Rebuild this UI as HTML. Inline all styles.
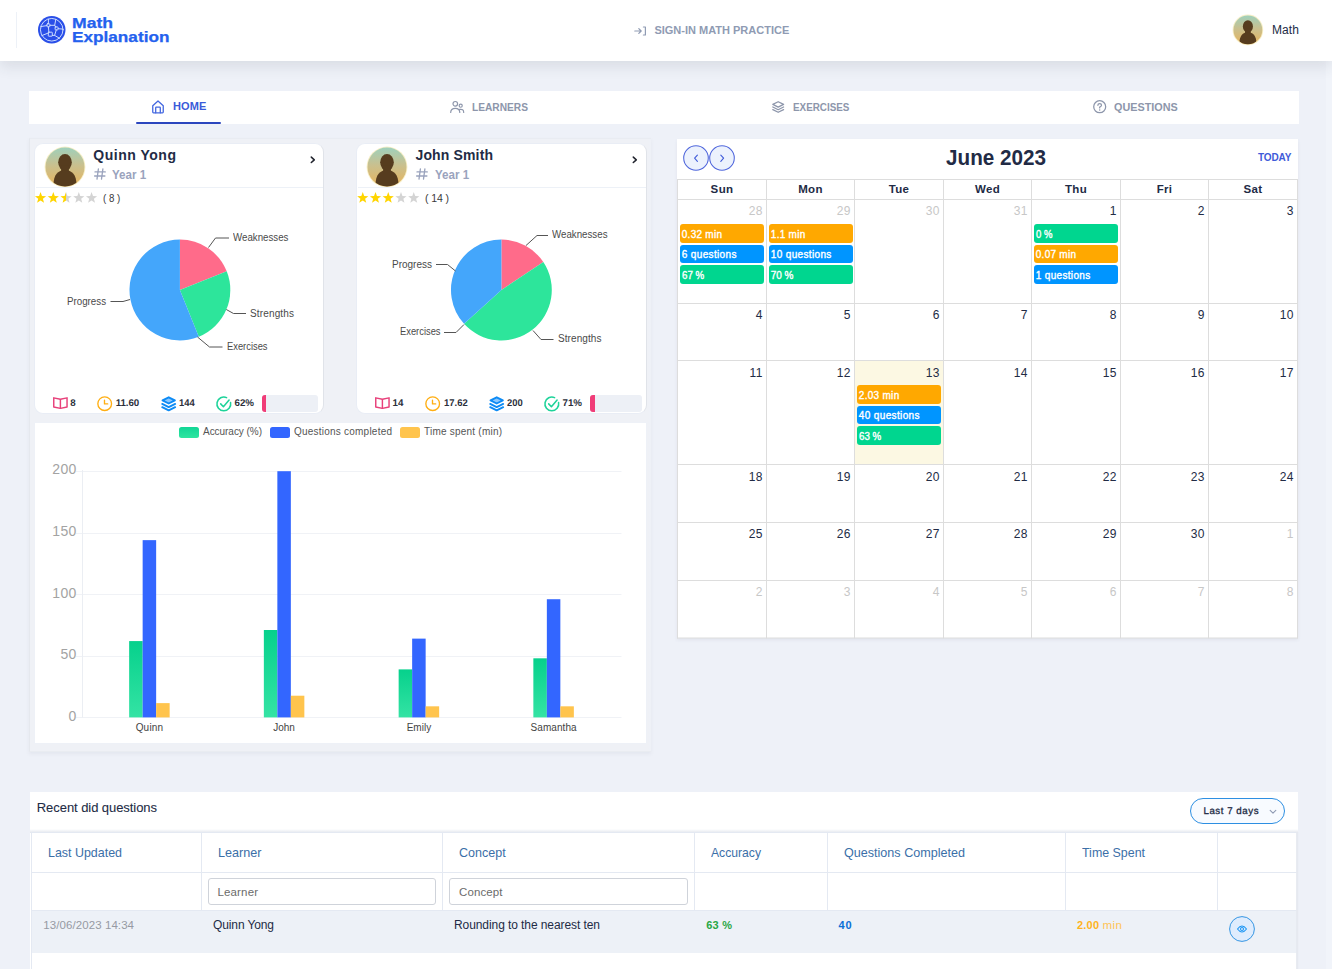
<!DOCTYPE html>
<html><head><meta charset="utf-8"><title>Math Explanation</title>
<style>
html,body{margin:0;padding:0}
body{width:1332px;height:969px;overflow:hidden;position:relative;background:#eef1f8;font-family:"Liberation Sans",sans-serif;}
.t{position:absolute;white-space:pre;line-height:1;}
.b{position:absolute;box-sizing:border-box;}
svg{position:absolute;overflow:visible}
</style></head><body>
<div class="b" id="rightstrip" style="left:1326px;top:0;width:6px;height:969px;background:#f1f4fa;"></div>
<div class="b" style="left:0px;top:0px;width:1332px;height:61px;background:#fff;box-shadow:0 6px 13px 0 rgba(50,54,70,.105);"></div>
<div class="b" style="left:16px;top:12px;width:1px;height:36px;background:#edf1f7;"></div>
<svg style="left:38.1px;top:16.1px" width="27.5" height="27.5" viewBox="0 0 27.5 27.5">
<circle cx="13.75" cy="13.75" r="13.75" fill="#2a4fe8"/>
<g fill="none" stroke="#d3e1ff" stroke-width="0.95" stroke-linecap="round" stroke-linejoin="round">
<circle cx="13.75" cy="13.75" r="11.3"/>
<rect x="8.9" y="7.8" width="3" height="3" rx="0.7"/><rect x="17.1" y="10.9" width="3" height="3" rx="0.7"/><rect x="10.3" y="16.2" width="4" height="4" rx="0.5"/>
<path d="M10.4 3.2V7.8M11.9 9.3H16.7L17.8 3.4M16.7 9.3L17.6 11M20.1 12.7L24.9 13.1M8.9 9.6L2.8 10.6M10.4 10.8L10.9 16.2M10.3 17L3.8 19.6M14.3 19.4H16.6L18.3 13.9M16.6 19.4L21.6 22.3"/>
</g></svg>
<span class="t" style="font-size:14.0px;color:#2461ee;top:16px;font-weight:700;transform:scale(1.2583,1.0000);transform-origin:0 12px;left:72.20px;-webkit-text-stroke:0.25px #2461ee;">Math</span>
<span class="t" style="font-size:14.0px;color:#2461ee;top:30px;font-weight:700;transform:scale(1.2275,1.0000);transform-origin:0 12px;left:72.20px;-webkit-text-stroke:0.25px #2461ee;">Explanation</span>
<svg style="left:633.5px;top:25.5px" width="13" height="10" viewBox="0 0 13 10">
<g fill="none" stroke="#8f9bb3" stroke-width="1.2" stroke-linecap="round" stroke-linejoin="round">
<path d="M0.8 5H7.2M4.8 2.6L7.2 5L4.8 7.4"/><path d="M9.4 1H11.4V9H9.4"/></g></svg>
<span class="t" style="font-size:11.0px;color:#8f9bb3;top:25px;font-weight:700;left:654.40px;">SIGN-IN MATH PRACTICE</span>
<svg style="left:1232.10px;top:14.30px" width="31.80" height="31.80" viewBox="-1.5 -1.5 31.80 31.80">
<defs><linearGradient id="uag" x1="0" y1="0" x2="0" y2="1"><stop offset="0" stop-color="#9fd0bb"/><stop offset="0.45" stop-color="#c9c08f"/><stop offset="1" stop-color="#e8b45c"/></linearGradient>
<clipPath id="uac"><circle cx="14.4" cy="14.4" r="14.4"/></clipPath></defs>
<circle cx="14.4" cy="14.4" r="15.30" fill="#f6e9b4" opacity="0.75"/>
<circle cx="14.4" cy="14.4" r="14.4" fill="url(#uag)"/>
<g clip-path="url(#uac)" fill="#563c1e">
<ellipse cx="14.4" cy="10.94" rx="5.04" ry="6.19"/><rect x="11.52" y="12.96" width="5.76" height="5.76"/>
<path d="M5.90 29.80 C5.47 20.45 8.93 16.99 14.40 16.70 C19.87 16.99 23.33 20.45 22.90 29.80Z"/>
</g></svg>
<span class="t" style="font-size:12.0px;color:#222b45;top:24px;letter-spacing:0.141px;left:1271.90px;">Math</span>
<div class="b" style="left:29px;top:91.25px;width:1270px;height:32.5px;background:#fff;"></div>
<svg style="left:152px;top:100.2px" width="12" height="13.5" viewBox="0 0 12 13.5"><g fill="none" stroke="#4468e0" stroke-width="1.3" stroke-linejoin="round" stroke-linecap="round">
<path d="M0.75 5.7L6 0.9L11.25 5.7V12Q11.25 12.8 10.5 12.8H1.5Q0.75 12.8 0.75 12Z"/><path d="M3.7 12.8V7.7Q3.7 7.1 4.3 7.1H7.7Q8.3 7.1 8.3 7.7V12.8"/></g></svg>
<span class="t" style="font-size:11.0px;color:#3a5bd9;top:101px;font-weight:700;letter-spacing:0.083px;left:173.00px;">HOME</span>
<div class="b" style="left:135.75px;top:121.9px;width:85px;height:2.1px;background:#2b46be;border-radius:1.5px;"></div>
<svg style="left:449.8px;top:101px" width="14.4" height="12" viewBox="0 0 14.4 12"><g fill="none" stroke="#8d96ab" stroke-width="1.2" stroke-linecap="round">
<circle cx="5.3" cy="2.8" r="2.3"/><path d="M0.7 11.5Q0.7 7.4 5.3 7.4Q9.8 7.4 9.8 11.5"/>
<circle cx="10.7" cy="4.7" r="1.55"/><path d="M9.6 8.4Q13.7 7.7 13.7 11.5"/></g></svg>
<span class="t" style="font-size:11.0px;color:#8d96ab;top:102px;font-weight:700;transform:scale(0.9255,1.0000);transform-origin:0 9px;left:471.80px;">LEARNERS</span>
<svg style="left:771.8px;top:101px" width="12.4" height="12" viewBox="0 0 12.4 12"><g fill="none" stroke="#8d96ab" stroke-width="1.25" stroke-linejoin="round" stroke-linecap="round">
<path d="M6.2 0.7L11.6 3.4L6.2 6.1L0.8 3.4Z"/><path d="M0.8 6L6.2 8.7L11.6 6"/><path d="M0.8 8.6L6.2 11.3L11.6 8.6"/></g></svg>
<span class="t" style="font-size:11.0px;color:#8d96ab;top:102px;font-weight:700;transform:scale(0.8957,1.0000);transform-origin:0 9px;left:792.90px;">EXERCISES</span>
<svg style="left:1093.2px;top:100.2px" width="13.4" height="13.4" viewBox="0 0 13.4 13.4"><g fill="none" stroke="#8d96ab" stroke-width="1.25" stroke-linecap="round">
<circle cx="6.7" cy="6.7" r="6"/><path d="M4.9 5.3Q4.9 3.6 6.7 3.6Q8.5 3.6 8.5 5.2Q8.5 6.3 6.7 7.1V7.9"/></g><circle cx="6.7" cy="10" r="0.75" fill="#8d96ab"/></svg>
<span class="t" style="font-size:11.0px;color:#8d96ab;top:102px;font-weight:700;transform:scale(0.9832,1.0000);transform-origin:0 9px;left:1114.30px;">QUESTIONS</span>
<div class="b" style="left:29px;top:137.5px;width:622px;height:614px;background:linear-gradient(90deg,#eff1f6 0,#eff1f6 618px,#eef1f8 622px);border-left:1.5px solid #e5e8ee;border-top:1px solid #e9ecf2;border-bottom:1px solid #e9ecf1;box-shadow:0 2px 3px rgba(200,205,215,.25);"></div>
<div class="b" style="left:34.0px;top:143.2px;width:290.0px;height:271px;background:#fff;border-radius:9px;border:1px solid #e9edf5;border-right-color:#e0e3e9;overflow:hidden;"></div>
<svg style="left:43.50px;top:145.50px" width="42.00" height="42.00" viewBox="-1.5 -1.5 42.00 42.00">
<defs><linearGradient id="qg" x1="0" y1="0" x2="0" y2="1"><stop offset="0" stop-color="#9fd0bb"/><stop offset="0.45" stop-color="#c9c08f"/><stop offset="1" stop-color="#e8b45c"/></linearGradient>
<clipPath id="qc"><circle cx="19.5" cy="19.5" r="19.5"/></clipPath></defs>
<circle cx="19.5" cy="19.5" r="20.40" fill="#f6e9b4" opacity="0.75"/>
<circle cx="19.5" cy="19.5" r="19.5" fill="url(#qg)"/>
<g clip-path="url(#qc)" fill="#563c1e">
<ellipse cx="19.5" cy="14.82" rx="6.82" ry="8.38"/><rect x="15.60" y="17.55" width="7.80" height="7.80"/>
<path d="M7.99 40.00 C7.41 27.69 12.09 23.01 19.50 22.62 C26.91 23.01 31.59 27.69 31.01 40.00Z"/>
</g></svg>
<span class="t" style="font-size:14.0px;color:#222b45;top:148px;font-weight:700;letter-spacing:0.519px;left:93.30px;">Quinn Yong</span>
<svg style="left:94.1px;top:167.6px" width="12" height="12" viewBox="0 0 12 12"><g fill="none" stroke="#9aa3bd" stroke-width="1.3" stroke-linecap="round">
<path d="M4.4 0.9L3 11.1M8.9 0.9L7.5 11.1M1 3.9H11.3M0.6 8H10.9"/></g></svg>
<span class="t" style="font-size:12.0px;color:#9aa3bd;top:169px;font-weight:700;transform:scale(0.9670,1.0000);transform-origin:0 10px;left:112.30px;">Year 1</span>
<svg style="left:310.2px;top:156.4px" width="6" height="8" viewBox="0 0 6 8"><path d="M1.3 1.1L4.3 3.8L1.3 6.5" fill="none" stroke="#22252f" stroke-width="1.55" stroke-linecap="round" stroke-linejoin="round"/></svg>
<div class="b" style="left:35.8px;top:187px;width:287.2px;height:1px;background:#edf1f7;"></div>
<svg style="left:0;top:0" width="1332" height="969"><defs><linearGradient id="qh"><stop offset="0.5" stop-color="#ffd500"/><stop offset="0.5" stop-color="#d4d4d4"/></linearGradient></defs><polygon points="40.55,192.09 42.00,195.97 46.15,196.15 42.90,198.73 44.01,202.73 40.55,200.44 37.09,202.73 38.20,198.73 34.95,196.15 39.10,195.97" fill="#ffd500"/><polygon points="53.30,192.09 54.75,195.97 58.90,196.15 55.65,198.73 56.76,202.73 53.30,200.44 49.84,202.73 50.95,198.73 47.70,196.15 51.85,195.97" fill="#ffd500"/><polygon points="66.05,192.09 67.50,195.97 71.65,196.15 68.40,198.73 69.51,202.73 66.05,200.44 62.59,202.73 63.70,198.73 60.45,196.15 64.60,195.97" fill="url(#qh)"/><polygon points="78.80,192.09 80.25,195.97 84.40,196.15 81.15,198.73 82.26,202.73 78.80,200.44 75.34,202.73 76.45,198.73 73.20,196.15 77.35,195.97" fill="#d4d4d4"/><polygon points="91.55,192.09 93.00,195.97 97.15,196.15 93.90,198.73 95.01,202.73 91.55,200.44 88.09,202.73 89.20,198.73 85.95,196.15 90.10,195.97" fill="#d4d4d4"/></svg>
<span class="t" style="font-size:10.5px;color:#3a3a3a;top:193px;transform:scale(0.9267,1.0000);transform-origin:0 9px;left:102.70px;">( 8 )</span>
<svg style="left:0;top:0" width="1332" height="969"><path d="M179.9 290L179.90 239.60A50.4 50.4 0 0 1 226.73 271.36Z" fill="#ff6b8a"/><path d="M179.9 290L226.73 271.36A50.4 50.4 0 0 1 198.78 336.73Z" fill="#2de59b"/><path d="M179.9 290L198.78 336.73A50.4 50.4 0 1 1 179.90 239.60Z" fill="#44a6fb"/><polyline points="208.5,247.5 215.5,238 229,238" fill="none" stroke="#555" stroke-width="1"/><polyline points="226.3,309.5 233.5,313.5 246,313.5" fill="none" stroke="#555" stroke-width="1"/><polyline points="197.5,337 209.5,347 222.5,347" fill="none" stroke="#555" stroke-width="1"/><polyline points="130,299.5 123,301.5 110.5,301.5" fill="none" stroke="#555" stroke-width="1"/></svg>
<span class="t" style="font-size:10.0px;color:#4a4a4a;top:233px;transform:scale(0.9708,1.0000);transform-origin:0 8px;left:233.30px;">Weaknesses</span>
<span class="t" style="font-size:10.0px;color:#4a4a4a;top:309px;letter-spacing:0.150px;left:250.00px;">Strengths</span>
<span class="t" style="font-size:10.0px;color:#4a4a4a;top:342px;transform:scale(0.9343,1.0000);transform-origin:0 8px;left:227.00px;">Exercises</span>
<span class="t" style="font-size:10.0px;color:#4a4a4a;top:297px;transform:scale(0.9746,1.0000);transform-origin:0 8px;left:67.00px;">Progress</span>
<svg style="left:53.2px;top:396.9px" width="14.8" height="12.2" viewBox="0 0 14.8 12.2"><g fill="none" stroke="#e8407a" stroke-width="1.45" stroke-linejoin="round">
<path d="M0.75 0.85L7.4 2.2L14.05 0.85V10L7.4 11.4L0.75 10Z"/><path d="M7.4 2.2V11.4"/></g></svg>
<span class="t" style="font-size:9.75px;color:#2c303b;top:399px;font-weight:700;left:70.20px;text-rendering:geometricPrecision;">8</span>
<svg style="left:97.0px;top:395.5px" width="15.4" height="15.4" viewBox="0.5 0.5 15.4 15.4"><g fill="none" stroke="#ffae12" stroke-width="1.35" stroke-linecap="round" stroke-linejoin="round">
<circle cx="8.2" cy="8.2" r="6.85"/><path d="M8 4.8V8.4H11.2"/></g></svg>
<span class="t" style="font-size:9.75px;color:#2c303b;top:399px;font-weight:700;letter-spacing:-0.065px;left:115.70px;text-rendering:geometricPrecision;">11.60</span>
<svg style="left:161.3px;top:395.6px" width="15.4" height="15.6" viewBox="0 0 15.4 15.6"><g fill="none" stroke="#0d8bf5" stroke-width="1.85" stroke-linejoin="round" stroke-linecap="round">
<path d="M7.7 1.3L13.9 4.4L7.7 7.5L1.5 4.4Z" fill="#8cc8ff"/><path d="M1.2 7.9L7.7 11.1L14.2 7.9"/><path d="M1.2 11.2L7.7 14.4L14.2 11.2"/></g></svg>
<span class="t" style="font-size:9.75px;color:#2c303b;top:399px;font-weight:700;transform:scale(0.9651,1.0000);transform-origin:0 8px;left:179.30px;text-rendering:geometricPrecision;">144</span>
<svg style="left:216.3px;top:396px" width="15.6" height="15.6" viewBox="0 0 15.6 15.6"><g fill="none" stroke="#1ed39a" stroke-width="1.55" stroke-linecap="round" stroke-linejoin="round">
<path d="M14.6 6.6A6.9 6.9 0 1 1 10.6 1.6"/><path d="M4.7 7.9L7.4 10.7L13.1 4.1"/></g></svg>
<span class="t" style="font-size:9.75px;color:#2c303b;top:399px;font-weight:700;letter-spacing:-0.057px;left:234.60px;text-rendering:geometricPrecision;">62%</span>
<div class="b" style="left:262px;top:395.3px;width:56.30000000000001px;height:16.4px;background:#edf0f6;border-radius:3px;overflow:hidden;"><div style="width:3.6px;height:100%;background:#f03d78"></div></div>
<div class="b" style="left:356.2px;top:143.2px;width:290.7px;height:271px;background:#fff;border-radius:9px;border:1px solid #e9edf5;border-right-color:#e0e3e9;overflow:hidden;"></div>
<svg style="left:365.70px;top:145.50px" width="42.00" height="42.00" viewBox="-1.5 -1.5 42.00 42.00">
<defs><linearGradient id="jg" x1="0" y1="0" x2="0" y2="1"><stop offset="0" stop-color="#9fd0bb"/><stop offset="0.45" stop-color="#c9c08f"/><stop offset="1" stop-color="#e8b45c"/></linearGradient>
<clipPath id="jc"><circle cx="19.5" cy="19.5" r="19.5"/></clipPath></defs>
<circle cx="19.5" cy="19.5" r="20.40" fill="#f6e9b4" opacity="0.75"/>
<circle cx="19.5" cy="19.5" r="19.5" fill="url(#jg)"/>
<g clip-path="url(#jc)" fill="#563c1e">
<ellipse cx="19.5" cy="14.82" rx="6.82" ry="8.38"/><rect x="15.60" y="17.55" width="7.80" height="7.80"/>
<path d="M7.99 40.00 C7.41 27.69 12.09 23.01 19.50 22.62 C26.91 23.01 31.59 27.69 31.01 40.00Z"/>
</g></svg>
<span class="t" style="font-size:14.0px;color:#222b45;top:148px;font-weight:700;letter-spacing:0.142px;left:415.50px;">John Smith</span>
<svg style="left:416.3px;top:167.6px" width="12" height="12" viewBox="0 0 12 12"><g fill="none" stroke="#9aa3bd" stroke-width="1.3" stroke-linecap="round">
<path d="M4.4 0.9L3 11.1M8.9 0.9L7.5 11.1M1 3.9H11.3M0.6 8H10.9"/></g></svg>
<span class="t" style="font-size:12.0px;color:#9aa3bd;top:169px;font-weight:700;transform:scale(0.9670,1.0000);transform-origin:0 10px;left:434.50px;">Year 1</span>
<svg style="left:632.4px;top:156.4px" width="6" height="8" viewBox="0 0 6 8"><path d="M1.3 1.1L4.3 3.8L1.3 6.5" fill="none" stroke="#22252f" stroke-width="1.55" stroke-linecap="round" stroke-linejoin="round"/></svg>
<div class="b" style="left:358px;top:187px;width:287.9px;height:1px;background:#edf1f7;"></div>
<svg style="left:0;top:0" width="1332" height="969"><defs><linearGradient id="jh"><stop offset="0.5" stop-color="#ffd500"/><stop offset="0.5" stop-color="#d4d4d4"/></linearGradient></defs><polygon points="362.75,192.09 364.20,195.97 368.35,196.15 365.10,198.73 366.21,202.73 362.75,200.44 359.29,202.73 360.40,198.73 357.15,196.15 361.30,195.97" fill="#ffd500"/><polygon points="375.50,192.09 376.95,195.97 381.10,196.15 377.85,198.73 378.96,202.73 375.50,200.44 372.04,202.73 373.15,198.73 369.90,196.15 374.05,195.97" fill="#ffd500"/><polygon points="388.25,192.09 389.70,195.97 393.85,196.15 390.60,198.73 391.71,202.73 388.25,200.44 384.79,202.73 385.90,198.73 382.65,196.15 386.80,195.97" fill="#ffd500"/><polygon points="401.00,192.09 402.45,195.97 406.60,196.15 403.35,198.73 404.46,202.73 401.00,200.44 397.54,202.73 398.65,198.73 395.40,196.15 399.55,195.97" fill="#d4d4d4"/><polygon points="413.75,192.09 415.20,195.97 419.35,196.15 416.10,198.73 417.21,202.73 413.75,200.44 410.29,202.73 411.40,198.73 408.15,196.15 412.30,195.97" fill="#d4d4d4"/></svg>
<span class="t" style="font-size:10.5px;color:#3a3a3a;top:193px;letter-spacing:-0.082px;left:424.90px;">( 14 )</span>
<svg style="left:0;top:0" width="1332" height="969"><path d="M501.4 290L501.40 239.60A50.4 50.4 0 0 1 543.33 262.04Z" fill="#ff6b8a"/><path d="M501.4 290L543.33 262.04A50.4 50.4 0 0 1 464.06 323.85Z" fill="#2de59b"/><path d="M501.4 290L464.06 323.85A50.4 50.4 0 0 1 501.40 239.60Z" fill="#44a6fb"/><polyline points="526,245.5 537,235.5 548,235.5" fill="none" stroke="#555" stroke-width="1"/><polyline points="533,330.5 541,339.5 553.5,339.5" fill="none" stroke="#555" stroke-width="1"/><polyline points="464,324.5 456,332.5 444,332.5" fill="none" stroke="#555" stroke-width="1"/><polyline points="455.5,271 447.5,264.5 436,264.5" fill="none" stroke="#555" stroke-width="1"/></svg>
<span class="t" style="font-size:10.0px;color:#4a4a4a;top:230px;transform:scale(0.9726,1.0000);transform-origin:0 8px;left:552.00px;">Weaknesses</span>
<span class="t" style="font-size:10.0px;color:#4a4a4a;top:334px;letter-spacing:0.087px;left:558.00px;">Strengths</span>
<span class="t" style="font-size:10.0px;color:#4a4a4a;top:327px;transform:scale(0.9343,1.0000);transform-origin:0 8px;left:399.50px;">Exercises</span>
<span class="t" style="font-size:10.0px;color:#4a4a4a;top:260px;left:392.00px;">Progress</span>
<svg style="left:375.4px;top:396.9px" width="14.8" height="12.2" viewBox="0 0 14.8 12.2"><g fill="none" stroke="#e8407a" stroke-width="1.45" stroke-linejoin="round">
<path d="M0.75 0.85L7.4 2.2L14.05 0.85V10L7.4 11.4L0.75 10Z"/><path d="M7.4 2.2V11.4"/></g></svg>
<span class="t" style="font-size:9.75px;color:#2c303b;top:399px;font-weight:700;letter-spacing:0.155px;left:392.40px;text-rendering:geometricPrecision;">14</span>
<svg style="left:425.0px;top:395.5px" width="15.4" height="15.4" viewBox="0.5 0.5 15.4 15.4"><g fill="none" stroke="#ffae12" stroke-width="1.35" stroke-linecap="round" stroke-linejoin="round">
<circle cx="8.2" cy="8.2" r="6.85"/><path d="M8 4.8V8.4H11.2"/></g></svg>
<span class="t" style="font-size:9.75px;color:#2c303b;top:399px;font-weight:700;transform:scale(0.9713,1.0000);transform-origin:0 8px;left:443.70px;text-rendering:geometricPrecision;">17.62</span>
<svg style="left:489.3px;top:395.6px" width="15.4" height="15.6" viewBox="0 0 15.4 15.6"><g fill="none" stroke="#0d8bf5" stroke-width="1.85" stroke-linejoin="round" stroke-linecap="round">
<path d="M7.7 1.3L13.9 4.4L7.7 7.5L1.5 4.4Z" fill="#8cc8ff"/><path d="M1.2 7.9L7.7 11.1L14.2 7.9"/><path d="M1.2 11.2L7.7 14.4L14.2 11.2"/></g></svg>
<span class="t" style="font-size:9.75px;color:#2c303b;top:399px;font-weight:700;transform:scale(0.9651,1.0000);transform-origin:0 8px;left:507.30px;text-rendering:geometricPrecision;">200</span>
<svg style="left:544.3px;top:396px" width="15.6" height="15.6" viewBox="0 0 15.6 15.6"><g fill="none" stroke="#1ed39a" stroke-width="1.55" stroke-linecap="round" stroke-linejoin="round">
<path d="M14.6 6.6A6.9 6.9 0 1 1 10.6 1.6"/><path d="M4.7 7.9L7.4 10.7L13.1 4.1"/></g></svg>
<span class="t" style="font-size:9.75px;color:#2c303b;top:399px;font-weight:700;letter-spacing:-0.057px;left:562.60px;text-rendering:geometricPrecision;">71%</span>
<div class="b" style="left:590px;top:395.3px;width:52.299999999999955px;height:16.4px;background:#edf0f6;border-radius:3px;overflow:hidden;"><div style="width:5px;height:100%;background:#f03d78"></div></div>
<div class="b" style="left:34px;top:422.1px;width:613.2px;height:322.3px;background:#fff;border:1px solid #eef1f7;"></div>
<div class="b" style="left:179px;top:427px;width:19.6px;height:11px;background:linear-gradient(#12d696,#2ee5a0);border-radius:2.5px;"></div>
<span class="t" style="font-size:10.0px;color:#555;top:427px;letter-spacing:-0.041px;left:203.00px;">Accuracy (%)</span>
<div class="b" style="left:270px;top:427px;width:19.6px;height:11px;background:#3366ff;border-radius:2.5px;"></div>
<span class="t" style="font-size:10.0px;color:#555;top:427px;letter-spacing:0.225px;left:294.00px;">Questions completed</span>
<div class="b" style="left:400px;top:427px;width:19.6px;height:11px;background:#ffc44d;border-radius:2.5px;"></div>
<span class="t" style="font-size:10.0px;color:#555;top:427px;letter-spacing:0.224px;left:424.00px;">Time spent (min)</span>
<svg style="left:0;top:0" width="1332" height="969"><line x1="76" y1="717.5" x2="621.5" y2="717.5" stroke="#f0f2f6" stroke-width="1"/><line x1="76" y1="656.5" x2="621.5" y2="656.5" stroke="#f0f2f6" stroke-width="1"/><line x1="76" y1="594.5" x2="621.5" y2="594.5" stroke="#f0f2f6" stroke-width="1"/><line x1="76" y1="533.5" x2="621.5" y2="533.5" stroke="#f0f2f6" stroke-width="1"/><line x1="76" y1="471.5" x2="621.5" y2="471.5" stroke="#f0f2f6" stroke-width="1"/><line x1="82.5" y1="470" x2="82.5" y2="717.5" stroke="#ebeef3" stroke-width="1"/><defs><linearGradient id="gg" x1="0" y1="0" x2="0" y2="1"><stop offset="0" stop-color="#06d18c"/><stop offset="1" stop-color="#34e3a4"/></linearGradient></defs><rect x="129.15" y="641.08" width="13.5" height="76.32" fill="url(#gg)"/><rect x="142.65" y="540.14" width="13.5" height="177.26" fill="#3366ff"/><rect x="156.15" y="703.12" width="13.5" height="14.28" fill="#ffc44d"/><rect x="263.85" y="630.00" width="13.5" height="87.40" fill="url(#gg)"/><rect x="277.35" y="471.20" width="13.5" height="246.20" fill="#3366ff"/><rect x="290.85" y="695.71" width="13.5" height="21.69" fill="#ffc44d"/><rect x="398.65" y="669.39" width="13.5" height="48.01" fill="url(#gg)"/><rect x="412.15" y="638.62" width="13.5" height="78.78" fill="#3366ff"/><rect x="425.65" y="706.32" width="13.5" height="11.08" fill="#ffc44d"/><rect x="533.35" y="658.31" width="13.5" height="59.09" fill="url(#gg)"/><rect x="546.85" y="599.22" width="13.5" height="118.18" fill="#3366ff"/><rect x="560.35" y="706.32" width="13.5" height="11.08" fill="#ffc44d"/></svg>
<span class="t" style="font-size:14.0px;color:#a3a3a3;top:709px;letter-spacing:0.300px;right:1255.40px;">0</span>
<span class="t" style="font-size:14.0px;color:#a3a3a3;top:647px;letter-spacing:0.300px;right:1255.40px;">50</span>
<span class="t" style="font-size:14.0px;color:#a3a3a3;top:586px;letter-spacing:0.300px;right:1255.40px;">100</span>
<span class="t" style="font-size:14.0px;color:#a3a3a3;top:524px;letter-spacing:0.300px;right:1255.40px;">150</span>
<span class="t" style="font-size:14.0px;color:#a3a3a3;top:462px;letter-spacing:0.300px;right:1255.40px;">200</span>
<span class="t" style="font-size:10.0px;color:#444;top:723px;letter-spacing:0.204px;left:135.65px;">Quinn</span>
<span class="t" style="font-size:10.0px;color:#444;top:723px;letter-spacing:-0.062px;left:273.35px;">John</span>
<span class="t" style="font-size:10.0px;color:#444;top:723px;letter-spacing:0.014px;left:406.65px;">Emily</span>
<span class="t" style="font-size:10.0px;color:#444;top:723px;letter-spacing:0.059px;left:530.60px;">Samantha</span>
<div class="b" style="left:677px;top:139px;width:621px;height:499.3px;background:#fff;box-shadow:0 2px 3px rgba(195,200,212,.3);"></div>
<svg style="left:683px;top:145px" width="26" height="26" viewBox="0 0 26 26"><circle cx="13" cy="13" r="12.3" fill="#ecf2fd" stroke="#4f66dc" stroke-width="1.05"/>
<g transform="translate(6.5,6.5)"><path d="M7.9 3.6L5.1 6.7L7.9 9.8" fill="none" stroke="#3f5bd9" stroke-width="1.1" stroke-linecap="round" stroke-linejoin="round"/></g></svg>
<svg style="left:709px;top:145px" width="26" height="26" viewBox="0 0 26 26"><circle cx="13" cy="13" r="12.3" fill="#ecf2fd" stroke="#4f66dc" stroke-width="1.05"/>
<g transform="translate(6.5,6.5)"><path d="M5.3 3.6L8.1 6.7L5.3 9.8" fill="none" stroke="#3f5bd9" stroke-width="1.1" stroke-linecap="round" stroke-linejoin="round"/></g></svg>
<span class="t" style="font-size:21.5px;color:#222b45;top:148px;font-weight:700;transform:scale(0.9617,1.0000);transform-origin:0 17px;left:945.60px;">June 2023</span>
<span class="t" style="font-size:10.0px;color:#3f5bd9;top:153px;font-weight:700;letter-spacing:-0.101px;left:1258.00px;">TODAY</span>
<div class="b" style="left:855px;top:361px;width:88px;height:103px;background:#fcf8e3;"></div>
<svg style="left:0;top:0" width="1332" height="969"><g stroke="#dddddd" stroke-width="1"><line x1="677.5" y1="180" x2="677.5" y2="638.5"/><line x1="766.5" y1="180" x2="766.5" y2="638.5"/><line x1="854.5" y1="180" x2="854.5" y2="638.5"/><line x1="943.5" y1="180" x2="943.5" y2="638.5"/><line x1="1031.5" y1="180" x2="1031.5" y2="638.5"/><line x1="1120.5" y1="180" x2="1120.5" y2="638.5"/><line x1="1208.5" y1="180" x2="1208.5" y2="638.5"/><line x1="1297.5" y1="180" x2="1297.5" y2="638.5"/><line x1="677" y1="179.5" x2="1298" y2="179.5"/><line x1="677" y1="199.5" x2="1298" y2="199.5"/><line x1="677" y1="303.5" x2="1298" y2="303.5"/><line x1="677" y1="360.5" x2="1298" y2="360.5"/><line x1="677" y1="464.5" x2="1298" y2="464.5"/><line x1="677" y1="522.5" x2="1298" y2="522.5"/><line x1="677" y1="580.5" x2="1298" y2="580.5"/><line x1="677" y1="638.0" x2="1298" y2="638.0"/></g></svg>
<span class="t" style="font-size:11.5px;color:#222b45;top:184px;font-weight:700;letter-spacing:0.350px;left:710.61px;">Sun</span>
<span class="t" style="font-size:11.5px;color:#222b45;top:184px;font-weight:700;letter-spacing:0.350px;left:798.16px;">Mon</span>
<span class="t" style="font-size:11.5px;color:#222b45;top:184px;font-weight:700;letter-spacing:0.350px;left:888.68px;">Tue</span>
<span class="t" style="font-size:11.5px;color:#222b45;top:184px;font-weight:700;letter-spacing:0.350px;left:974.94px;">Wed</span>
<span class="t" style="font-size:11.5px;color:#222b45;top:184px;font-weight:700;letter-spacing:0.350px;left:1064.94px;">Thu</span>
<span class="t" style="font-size:11.5px;color:#222b45;top:184px;font-weight:700;letter-spacing:0.350px;left:1156.63px;">Fri</span>
<span class="t" style="font-size:11.5px;color:#222b45;top:184px;font-weight:700;letter-spacing:0.350px;left:1243.53px;">Sat</span>
<span class="t" style="font-size:12.0px;color:#c7c7c7;top:205px;letter-spacing:0.450px;right:569.05px;">28</span>
<span class="t" style="font-size:12.0px;color:#c7c7c7;top:205px;letter-spacing:0.450px;right:481.05px;">29</span>
<span class="t" style="font-size:12.0px;color:#c7c7c7;top:205px;letter-spacing:0.450px;right:392.05px;">30</span>
<span class="t" style="font-size:12.0px;color:#c7c7c7;top:205px;letter-spacing:0.450px;right:304.05px;">31</span>
<span class="t" style="font-size:12.0px;color:#222b45;top:205px;letter-spacing:0.450px;right:215.05px;">1</span>
<span class="t" style="font-size:12.0px;color:#222b45;top:205px;letter-spacing:0.450px;right:127.05px;">2</span>
<span class="t" style="font-size:12.0px;color:#222b45;top:205px;letter-spacing:0.450px;right:38.05px;">3</span>
<span class="t" style="font-size:12.0px;color:#222b45;top:309px;letter-spacing:0.450px;right:569.05px;">4</span>
<span class="t" style="font-size:12.0px;color:#222b45;top:309px;letter-spacing:0.450px;right:481.05px;">5</span>
<span class="t" style="font-size:12.0px;color:#222b45;top:309px;letter-spacing:0.450px;right:392.05px;">6</span>
<span class="t" style="font-size:12.0px;color:#222b45;top:309px;letter-spacing:0.450px;right:304.05px;">7</span>
<span class="t" style="font-size:12.0px;color:#222b45;top:309px;letter-spacing:0.450px;right:215.05px;">8</span>
<span class="t" style="font-size:12.0px;color:#222b45;top:309px;letter-spacing:0.450px;right:127.05px;">9</span>
<span class="t" style="font-size:12.0px;color:#222b45;top:309px;letter-spacing:0.450px;right:38.05px;">10</span>
<span class="t" style="font-size:12.0px;color:#222b45;top:367px;letter-spacing:0.450px;right:569.05px;">11</span>
<span class="t" style="font-size:12.0px;color:#222b45;top:367px;letter-spacing:0.450px;right:481.05px;">12</span>
<span class="t" style="font-size:12.0px;color:#222b45;top:367px;letter-spacing:0.450px;right:392.05px;">13</span>
<span class="t" style="font-size:12.0px;color:#222b45;top:367px;letter-spacing:0.450px;right:304.05px;">14</span>
<span class="t" style="font-size:12.0px;color:#222b45;top:367px;letter-spacing:0.450px;right:215.05px;">15</span>
<span class="t" style="font-size:12.0px;color:#222b45;top:367px;letter-spacing:0.450px;right:127.05px;">16</span>
<span class="t" style="font-size:12.0px;color:#222b45;top:367px;letter-spacing:0.450px;right:38.05px;">17</span>
<span class="t" style="font-size:12.0px;color:#222b45;top:471px;letter-spacing:0.450px;right:569.05px;">18</span>
<span class="t" style="font-size:12.0px;color:#222b45;top:471px;letter-spacing:0.450px;right:481.05px;">19</span>
<span class="t" style="font-size:12.0px;color:#222b45;top:471px;letter-spacing:0.450px;right:392.05px;">20</span>
<span class="t" style="font-size:12.0px;color:#222b45;top:471px;letter-spacing:0.450px;right:304.05px;">21</span>
<span class="t" style="font-size:12.0px;color:#222b45;top:471px;letter-spacing:0.450px;right:215.05px;">22</span>
<span class="t" style="font-size:12.0px;color:#222b45;top:471px;letter-spacing:0.450px;right:127.05px;">23</span>
<span class="t" style="font-size:12.0px;color:#222b45;top:471px;letter-spacing:0.450px;right:38.05px;">24</span>
<span class="t" style="font-size:12.0px;color:#222b45;top:528px;letter-spacing:0.450px;right:569.05px;">25</span>
<span class="t" style="font-size:12.0px;color:#222b45;top:528px;letter-spacing:0.450px;right:481.05px;">26</span>
<span class="t" style="font-size:12.0px;color:#222b45;top:528px;letter-spacing:0.450px;right:392.05px;">27</span>
<span class="t" style="font-size:12.0px;color:#222b45;top:528px;letter-spacing:0.450px;right:304.05px;">28</span>
<span class="t" style="font-size:12.0px;color:#222b45;top:528px;letter-spacing:0.450px;right:215.05px;">29</span>
<span class="t" style="font-size:12.0px;color:#222b45;top:528px;letter-spacing:0.450px;right:127.05px;">30</span>
<span class="t" style="font-size:12.0px;color:#c7c7c7;top:528px;letter-spacing:0.450px;right:38.05px;">1</span>
<span class="t" style="font-size:12.0px;color:#c7c7c7;top:586px;letter-spacing:0.450px;right:569.05px;">2</span>
<span class="t" style="font-size:12.0px;color:#c7c7c7;top:586px;letter-spacing:0.450px;right:481.05px;">3</span>
<span class="t" style="font-size:12.0px;color:#c7c7c7;top:586px;letter-spacing:0.450px;right:392.05px;">4</span>
<span class="t" style="font-size:12.0px;color:#c7c7c7;top:586px;letter-spacing:0.450px;right:304.05px;">5</span>
<span class="t" style="font-size:12.0px;color:#c7c7c7;top:586px;letter-spacing:0.450px;right:215.05px;">6</span>
<span class="t" style="font-size:12.0px;color:#c7c7c7;top:586px;letter-spacing:0.450px;right:127.05px;">7</span>
<span class="t" style="font-size:12.0px;color:#c7c7c7;top:586px;letter-spacing:0.450px;right:38.05px;">8</span>
<div class="b" style="left:680.0px;top:224.3px;width:83.9px;height:18.3px;background:#ffa800;border-radius:3px;"></div>
<span class="t" style="font-size:10.0px;color:#fff;top:230px;letter-spacing:0.264px;left:681.80px;-webkit-text-stroke:0.35px #fff;">0.32 min</span>
<div class="b" style="left:680.0px;top:244.8px;width:83.9px;height:18.3px;background:#0095ff;border-radius:3px;"></div>
<span class="t" style="font-size:10.0px;color:#fff;top:250px;letter-spacing:0.345px;left:681.80px;-webkit-text-stroke:0.35px #fff;">6 questions</span>
<div class="b" style="left:680.0px;top:265.3px;width:83.9px;height:18.3px;background:#00d68f;border-radius:3px;"></div>
<span class="t" style="font-size:10.0px;color:#fff;top:271px;transform:scale(0.9740,1.0000);transform-origin:0 8px;left:681.80px;-webkit-text-stroke:0.35px #fff;">67 %</span>
<div class="b" style="left:769.0px;top:224.3px;width:83.9px;height:18.3px;background:#ffa800;border-radius:3px;"></div>
<span class="t" style="font-size:10.0px;color:#fff;top:230px;letter-spacing:0.284px;left:770.80px;-webkit-text-stroke:0.35px #fff;">1.1 min</span>
<div class="b" style="left:769.0px;top:244.8px;width:83.9px;height:18.3px;background:#0095ff;border-radius:3px;"></div>
<span class="t" style="font-size:10.0px;color:#fff;top:250px;letter-spacing:0.345px;left:770.80px;-webkit-text-stroke:0.35px #fff;">10 questions</span>
<div class="b" style="left:769.0px;top:265.3px;width:83.9px;height:18.3px;background:#00d68f;border-radius:3px;"></div>
<span class="t" style="font-size:10.0px;color:#fff;top:271px;letter-spacing:-0.064px;left:770.80px;-webkit-text-stroke:0.35px #fff;">70 %</span>
<div class="b" style="left:1034.0px;top:224.3px;width:83.9px;height:18.3px;background:#00d68f;border-radius:3px;"></div>
<span class="t" style="font-size:10.0px;color:#fff;top:230px;transform:scale(0.9518,1.0000);transform-origin:0 8px;left:1035.80px;-webkit-text-stroke:0.35px #fff;">0 %</span>
<div class="b" style="left:1034.0px;top:244.8px;width:83.9px;height:18.3px;background:#ffa800;border-radius:3px;"></div>
<span class="t" style="font-size:10.0px;color:#fff;top:250px;letter-spacing:0.264px;left:1035.80px;-webkit-text-stroke:0.35px #fff;">0.07 min</span>
<div class="b" style="left:1034.0px;top:265.3px;width:83.9px;height:18.3px;background:#0095ff;border-radius:3px;"></div>
<span class="t" style="font-size:10.0px;color:#fff;top:271px;letter-spacing:0.325px;left:1035.80px;-webkit-text-stroke:0.35px #fff;">1 questions</span>
<div class="b" style="left:857.0px;top:385.3px;width:83.9px;height:18.3px;background:#ffa800;border-radius:3px;"></div>
<span class="t" style="font-size:10.0px;color:#fff;top:391px;letter-spacing:0.292px;left:858.80px;-webkit-text-stroke:0.35px #fff;">2.03 min</span>
<div class="b" style="left:857.0px;top:405.8px;width:83.9px;height:18.3px;background:#0095ff;border-radius:3px;"></div>
<span class="t" style="font-size:10.0px;color:#fff;top:411px;letter-spacing:0.363px;left:858.80px;-webkit-text-stroke:0.35px #fff;">40 questions</span>
<div class="b" style="left:857.0px;top:426.3px;width:83.9px;height:18.3px;background:#00d68f;border-radius:3px;"></div>
<span class="t" style="font-size:10.0px;color:#fff;top:432px;transform:scale(0.9740,1.0000);transform-origin:0 8px;left:858.80px;-webkit-text-stroke:0.35px #fff;">63 %</span>
<div class="b" style="left:30px;top:792px;width:1268.3px;height:180px;background:#fff;"></div>
<span class="t" style="font-size:13.0px;color:#222b45;top:801px;letter-spacing:-0.064px;left:36.80px;-webkit-text-stroke:0.08px #222b45;">Recent did questions</span>
<div class="b" style="left:1190px;top:797.8px;width:95px;height:26.2px;background:#f8fbff;border:1px solid #2d8fe2;border-radius:14px;"></div>
<span class="t" style="font-size:9.75px;color:#222b45;top:807px;letter-spacing:0.514px;left:1203.50px;-webkit-text-stroke:0.3px #222b45;text-rendering:geometricPrecision;">Last 7 days</span>
<svg style="left:1269px;top:809px" width="8" height="6" viewBox="0 0 8 6"><path d="M1.2 1.4L4 4.2L6.8 1.4" fill="none" stroke="#8f9bb3" stroke-width="1.1" stroke-linecap="round" stroke-linejoin="round"/></svg>
<div class="b" style="left:30px;top:829px;width:1268.3px;height:4px;background:linear-gradient(rgba(200,206,220,0),rgba(190,198,214,.45));"></div>
<div class="b" style="left:31px;top:911px;width:1266.5px;height:41.7px;background:#edf1f7;"></div>
<svg style="left:0;top:0" width="1332" height="969"><g stroke="#e4e9f2" stroke-width="1"><line x1="31.5" y1="832" x2="31.5" y2="969"/><line x1="201.5" y1="832" x2="201.5" y2="911"/><line x1="442.5" y1="832" x2="442.5" y2="911"/><line x1="694.5" y1="832" x2="694.5" y2="911"/><line x1="827.5" y1="832" x2="827.5" y2="911"/><line x1="1065.5" y1="832" x2="1065.5" y2="911"/><line x1="1217.5" y1="832" x2="1217.5" y2="911"/><line x1="1297.5" y1="832" x2="1297.5" y2="969"/><line x1="31" y1="832.5" x2="1298" y2="832.5"/><line x1="31" y1="872.5" x2="1298" y2="872.5"/><line x1="31" y1="910.5" x2="1298" y2="910.5"/><line x1="1297.2" y1="832" x2="1297.2" y2="969" stroke="#e6e9f0" stroke-width="2.2"/></g></svg>
<span class="t" style="font-size:13.0px;color:#3b6fa8;top:846px;transform:scale(0.9569,1.0000);transform-origin:0 11px;left:48.00px;">Last Updated</span>
<span class="t" style="font-size:13.0px;color:#3b6fa8;top:846px;transform:scale(0.9708,1.0000);transform-origin:0 11px;left:217.50px;">Learner</span>
<span class="t" style="font-size:13.0px;color:#3b6fa8;top:846px;transform:scale(0.9645,1.0000);transform-origin:0 11px;left:459.30px;">Concept</span>
<span class="t" style="font-size:13.0px;color:#3b6fa8;top:846px;transform:scale(0.9353,1.0000);transform-origin:0 11px;left:711.00px;">Accuracy</span>
<span class="t" style="font-size:13.0px;color:#3b6fa8;top:846px;transform:scale(0.9679,1.0000);transform-origin:0 11px;left:843.50px;">Questions Completed</span>
<span class="t" style="font-size:13.0px;color:#3b6fa8;top:846px;transform:scale(0.9547,1.0000);transform-origin:0 11px;left:1082.00px;">Time Spent</span>
<div class="b" style="left:208px;top:878px;width:227.5px;height:27.3px;background:#fff;border:1px solid #cfd3da;border-radius:3px;"></div>
<span class="t" style="font-size:11.5px;color:#6b6b6b;top:887px;letter-spacing:0.143px;left:217.50px;">Learner</span>
<div class="b" style="left:449px;top:878px;width:238.5px;height:27.3px;background:#fff;border:1px solid #cfd3da;border-radius:3px;"></div>
<span class="t" style="font-size:11.5px;color:#6b6b6b;top:887px;letter-spacing:0.111px;left:459.00px;">Concept</span>
<span class="t" style="font-size:11.5px;color:#969aa3;top:920px;letter-spacing:0.078px;left:43.30px;">13/06/2023 14:34</span>
<span class="t" style="font-size:12.0px;color:#222b45;top:919px;letter-spacing:-0.118px;left:213.00px;">Quinn Yong</span>
<span class="t" style="font-size:12.0px;color:#222b45;top:919px;letter-spacing:-0.081px;left:454.00px;">Rounding to the nearest ten</span>
<span class="t" style="font-size:11.0px;color:#28a745;top:920px;font-weight:700;letter-spacing:0.209px;left:706.30px;">63 %</span>
<span class="t" style="font-size:11.0px;color:#0a6fd6;top:920px;font-weight:700;letter-spacing:0.764px;left:838.50px;">40</span>
<span class="t" style="font-size:11.0px;color:#ffb320;top:920px;font-weight:700;letter-spacing:0.197px;left:1077.00px;">2.00</span>
<span class="t" style="font-size:11.5px;color:#ffc355;top:920px;letter-spacing:0.484px;left:1102.50px;">min</span>
<svg style="left:1229px;top:916.4px" width="26" height="26" viewBox="0 0 26 26"><circle cx="13" cy="13" r="12.4" fill="#dfecfd" stroke="#2b90e2" stroke-width="0.95"/>
<path d="M8.5 13Q10.7 10 13 10Q15.3 10 17.5 13Q15.3 16 13 16Q10.7 16 8.5 13Z" fill="none" stroke="#1a95f5" stroke-width="1.05" stroke-linejoin="round"/><circle cx="13" cy="13" r="1.5" fill="none" stroke="#1a95f5" stroke-width="1.05"/></svg></body></html>
